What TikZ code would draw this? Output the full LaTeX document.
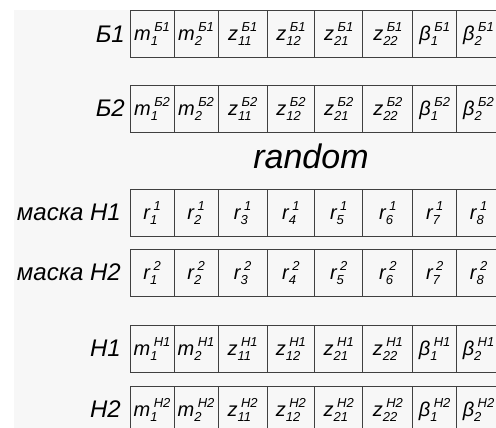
\documentclass[tikz,border=0pt]{standalone}
\usepackage{fontspec}
\setmainfont{Liberation Sans}
\definecolor{bggray}{HTML}{F7F7F7}
\definecolor{linegray}{HTML}{404040}
\newcommand\scr{\fontsize{13}{13}\selectfont}
\newcommand\ent[3]{#1\rlap{\raisebox{-5pt}{\scr #2}}\hspace{3.5pt}\raisebox{9pt}{\scr #3}}
\begin{document}
\begin{tikzpicture}[x=1pt,y=-1pt,
  cell/.style={draw=linegray, line width=1.1pt, inner sep=0pt, anchor=north west,
    minimum height=47pt, font=\fontsize{20}{20}\selectfont\itshape},
  rowlabel/.style={anchor=east, inner sep=0pt, font=\fontsize{24}{24}\selectfont\itshape}]
\useasboundingbox (0,0) rectangle (496,428);
\clip (0,0) rectangle (496,428);
\fill[bggray] (14,10) rectangle (496,428);
% data rows
\foreach \rw/\tp/\tag in {b1/10/Б1, b2/85/Б2, h1/325/H1, h2/386/H2} {
  \foreach \col/\xa/\xb/\base/\sub in {1/129.5/173.5/m/1, 2/173.5/217.5/m/2,
      3/217.5/266.7/z/11, 4/266.7/314/z/12, 5/314/362.3/z/21, 6/362.3/412.3/z/22,
      7/412.3/456/β/1, 8/456/500/β/2} {
    \pgfmathsetmacro\w{\xb-\xa}
    \node[cell, minimum width=\w pt] (\rw-\col) at (\xa,\tp) {\ent{\base}{\sub}{\tag}};
  }
}
% mask rows
\foreach \rw/\tp/\k in {m1/189/1, m2/249/2} {
  \foreach \col/\xa/\xb in {1/129.5/173.5, 2/173.5/217.5, 3/217.5/266.7, 4/266.7/314,
      5/314/362.3, 6/362.3/412.3, 7/412.3/456, 8/456/500} {
    \pgfmathsetmacro\w{\xb-\xa}
    \node[cell, minimum width=\w pt] (\rw-\col) at (\xa,\tp) {\ent{r}{\col}{\k}};
  }
}
% labels
\node[rowlabel] (lb1) at (125,33.75) {Б1};
\node[rowlabel] (lb2) at (125,108.5) {Б2};
\node[inner sep=0pt, font=\fontsize{34}{34}\selectfont\itshape] (rnd) at (311,156.5) {random};
\node[rowlabel] (lm1) at (121,212.5) {маска H1};
\node[rowlabel] (lm2) at (121,272.5) {маска H2};
\node[rowlabel] (lh1) at (121,348.5) {H1};
\node[rowlabel] (lh2) at (121,409.5) {H2};
\end{tikzpicture}
\end{document}
